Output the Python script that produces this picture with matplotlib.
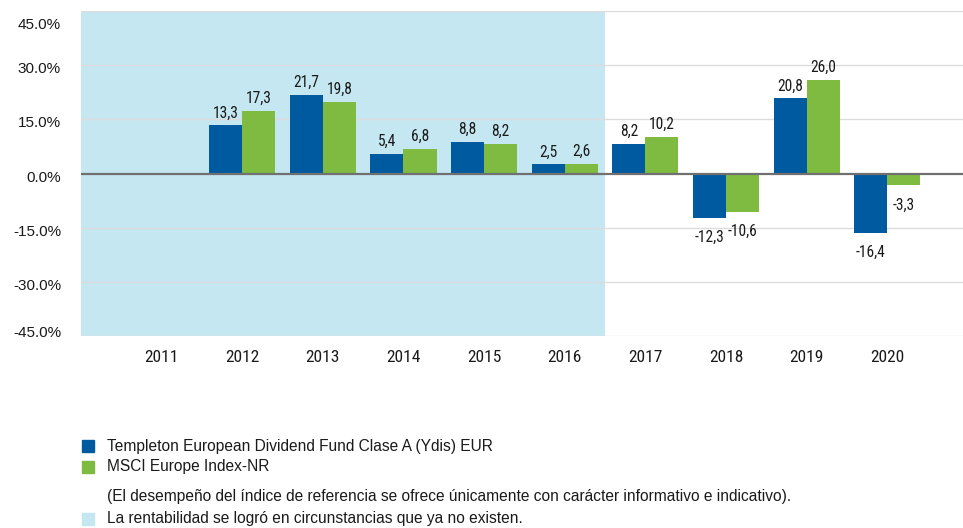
import matplotlib
matplotlib.use("Agg")
import matplotlib.pyplot as plt
import matplotlib.transforms as mtransforms
from matplotlib.font_manager import fontManager

years = ["2011", "2012", "2013", "2014", "2015", "2016", "2017", "2018", "2019", "2020"]
fund = [None, 13.3, 21.7, 5.4, 8.8, 2.5, 8.2, -12.3, 20.8, -16.4]
index = [None, 17.3, 19.8, 6.8, 8.2, 2.6, 10.2, -10.6, 26.0, -3.3]
yticks = [45, 30, 15, 0, -15, -30, -45]
fund_name = "Templeton European Dividend Fund Clase A (Ydis) EUR"
index_name = "MSCI Europe Index-NR"
note = "(El desempeño del índice de referencia se ofrece únicamente con carácter informativo e indicativo)."
shade_name = "La rentabilidad se logró en circunstancias que ya no existen."
shade_last = "2016"

names = {f.name for f in fontManager.ttflist}
def avail(lst):
    return [f for f in lst if f in names] + ["DejaVu Sans"]
MAIN = avail(["Liberation Sans"])
NARROW = avail(["Roboto Condensed", "Liberation Sans"])
plt.rcParams['font.family'] = MAIN

BLUE = "#005a9f"
GREEN = "#7fbb41"
SHADE = "#c5e7f2"
TXT = "#1a1a1a"

fig = plt.figure(figsize=(9.63, 5.28), dpi=100)
ax = fig.add_axes([81/963, 1-336/528, 1-81/963, (336-11)/528])

x = list(range(len(years)))
w = 0.41
ax.axvspan(-1, years.index(shade_last) + 0.5, color=SHADE, zorder=0, lw=0)

def label(xc, v):
    s = f"{v:.1f}".replace('.', ',')
    if v >= 0:
        ax.text(xc, v + 1.4, s, ha='center', va='bottom', fontsize=11.2, color=TXT, zorder=4, family=NARROW)
    else:
        ax.text(xc, v - 3.4, s, ha='center', va='top', fontsize=11.2, color=TXT, zorder=4, family=NARROW)

for i, (a, b) in enumerate(zip(fund, index)):
    if a is not None:
        ax.bar(i - w/2, a, w, color=BLUE, zorder=3)
        label(i - w/2, a)
    if b is not None:
        ax.bar(i + w/2, b, w, color=GREEN, zorder=3)
        label(i + w/2, b)

ax.set_xlim(-1, 9.94)
ax.set_ylim(-45, 45)
ax.set_yticks(yticks)
ax.set_yticklabels([])
ax.set_xticks(x)
ax.set_xticklabels(years, fontsize=12.5, color=TXT, family=NARROW)
ax.tick_params(axis='both', length=0)
ax.tick_params(axis='x', pad=10)

# y tick labels, nudged like the original (top/bottom kept inside the plot height)
blend = mtransforms.blended_transform_factory(ax.transAxes, ax.transData)
for t in yticks:
    dy = -4
    if t == max(yticks):
        dy = -14
    elif t == min(yticks):
        dy = 3
    tr = mtransforms.offset_copy(blend, fig=fig, x=-20, y=dy, units='dots')
    ax.text(0, t, f"{t:.1f}%", transform=tr, ha='right', va='center', fontsize=11, color=TXT, clip_on=False)

for t in yticks:
    if t != 0:
        ax.axhline(t, color='#dcdcdc', lw=1, zorder=1)
ax.axhline(0, color='#707070', lw=1.6, zorder=5)
for s in ax.spines.values():
    s.set_visible(False)

# legend
items = [(446, BLUE, fund_name), (467, GREEN, index_name), (496, None, note), (519, SHADE, shade_name)]
for ypx, col, txt in items:
    yf = 1 - ypx/528
    if col is not None:
        fig.patches.append(plt.Rectangle((82/963, yf - 6/528), 12/963, 12/528, transform=fig.transFigure,
                                         color=col, figure=fig))
    fig.text(107/963, yf, txt, ha='left', va='center', fontsize=11.2, color=TXT)

fig.savefig("out.png", dpi=100)
